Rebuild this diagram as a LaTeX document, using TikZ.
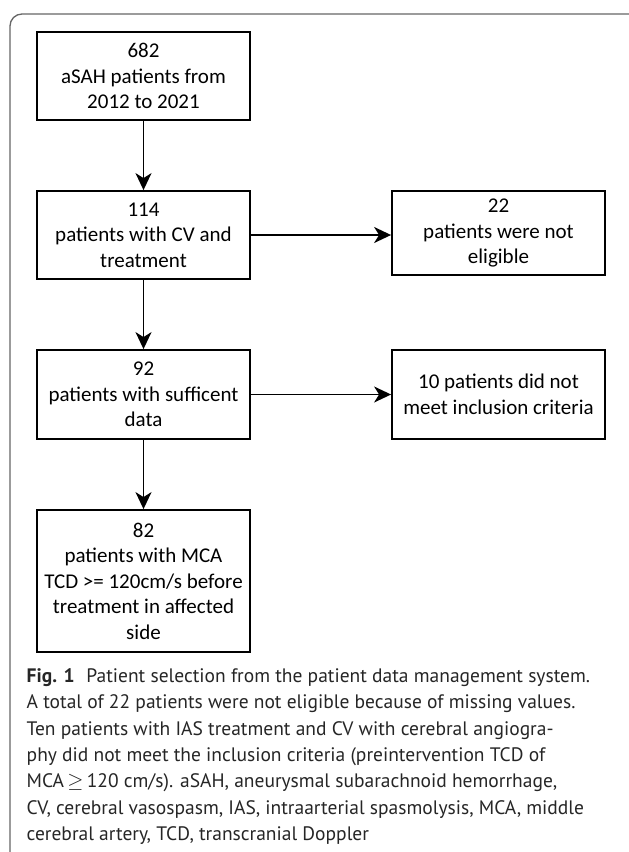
\documentclass[tikz,border=0pt]{standalone}
\usepackage{fontspec}
\setmainfont{Carlito}
\newfontfamily\capfont{PT Sans}
\usetikzlibrary{arrows.meta}
\begin{document}
\begin{tikzpicture}[x=1pt,y=-1pt,
  box/.style={draw=black, line width=1.8pt, minimum width=213pt, align=center, inner sep=0pt, font=\fontsize{21}{25.5}\selectfont},
  arr/.style={line width=1.8pt, -{Stealth[length=17pt,width=16pt,inset=5pt]}},
  capline/.style={anchor=base west, inner sep=0pt, text=black!85, font=\capfont\fontsize{19.5}{26}\selectfont}]
\useasboundingbox (0,0) rectangle (629,852);
\clip (0,0) rectangle (629,852);
\fill[white] (0,0) rectangle (629,852);
\draw[line width=1.3pt, black!60, rounded corners=12pt] (10,14) rectangle (645,870);

\node[box, minimum height=88pt] (n1) at (143.5,76) {682\\aSAH patients from\\2012 to 2021};
\node[box, minimum height=88pt] (n2) at (143.5,235) {114\\patients with CV and\\treatment};
\node[box, minimum height=84pt] (n3) at (498.5,233) {22\\patients were not\\eligible};
\node[box, minimum height=89pt] (n4) at (143.5,394.5) {92\\patients with sufficent\\data};
\node[box, minimum height=89pt] (n5) at (498.5,394.5) {10 patients did not\\meet inclusion criteria};
\node[box, minimum height=142pt] (n6) at (143.5,581) {82\\patients with MCA\\TCD >= 120cm/s before\\treatment in affected\\side};

\draw[arr] (n1) -- (n2);
\draw[arr] (n2) -- (n4);
\draw[arr] (n4) -- (n6);
\draw[arr] (n2.east) -- (n2.east -| n3.west);
\draw[arr] (n4.east) -- (n4.east -| n5.west);

\node[capline] (c1) at (26.5,682) {\textbf{Fig. 1}\hspace{0.6em}Patient selection from the patient data management system.};
\node[capline] (c2) at (26.5,708) {A total of 22 patients were not eligible because of missing values.};
\node[capline] (c3) at (26.5,735) {Ten patients with IAS treatment and CV with cerebral angiogra-};
\node[capline] (c4) at (26.5,761) {phy did not meet the inclusion criteria (preintervention TCD of};
\node[capline] (c5) at (26.5,787) {MCA\,$\geq$\,120 cm/s). aSAH, aneurysmal subarachnoid hemorrhage,};
\node[capline] (c6) at (26.5,814) {CV, cerebral vasospasm, IAS, intraarterial spasmolysis, MCA, middle};
\node[capline] (c7) at (26.5,840) {cerebral artery, TCD, transcranial Doppler};
\end{tikzpicture}
\end{document}
